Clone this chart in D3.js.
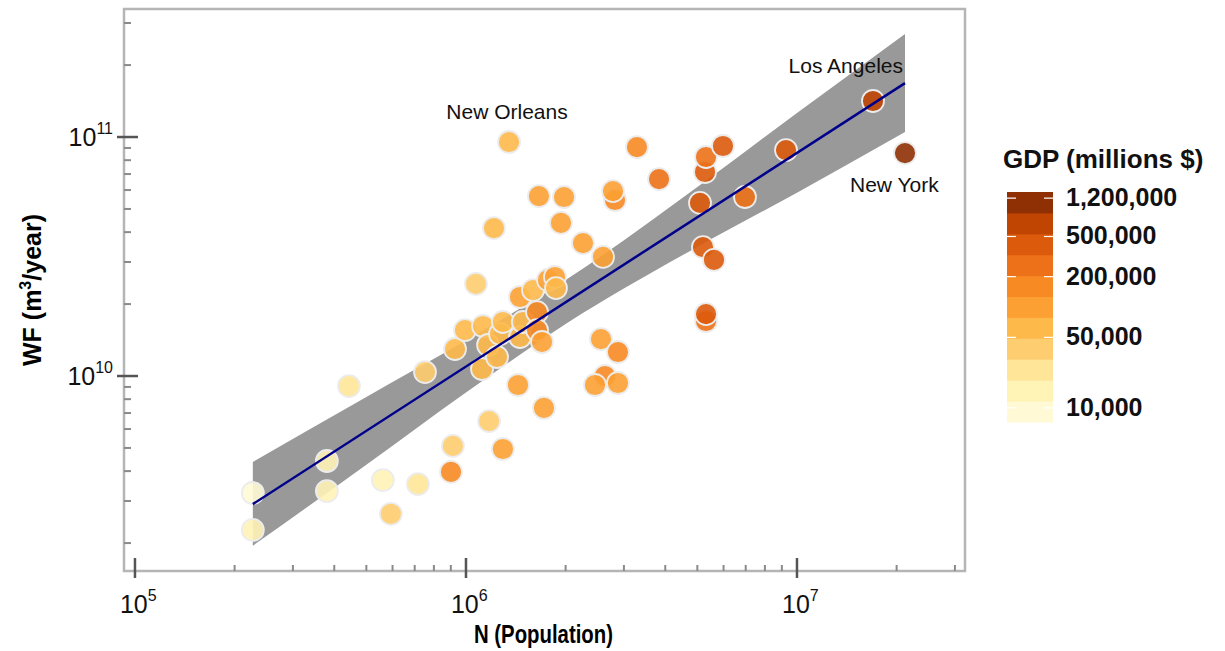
<!DOCTYPE html>
<html>
<head>
<meta charset="utf-8">
<script src="https://cdn.jsdelivr.net/npm/d3@7"></script>
<style>
body{margin:0;background:#fff}
text{font-family:"Liberation Sans",Arial,sans-serif}
</style>
</head>
<body>
<svg id="chart" width="1225" height="651"></svg>
<script>
// city data (first three are the labelled ones)
var popN = [1.349e6,1.697e7,2.120e7,
  2.27e5,2.27e5,3.80e5,3.80e5,4.43e5,5.61e5,7.16e5,5.93e5,7.52e5,9.01e5,9.13e5,1.174e6,1.293e6,1.436e6,1.720e6,
  1.072e6,1.215e6,1.661e6,1.978e6,1.936e6,2.257e6,2.594e6,2.820e6,2.781e6,3.285e6,3.830e6,
  5.274e6,5.311e6,5.976e6,5.093e6,6.965e6,9.265e6,5.200e6,5.614e6,5.311e6,5.311e6,
  2.558e6,2.878e6,2.630e6,2.453e6,2.878e6,
  9.265e5,9.93e5,1.126e6,1.166e6,1.267e6,1.293e6,1.118e6,1.241e6,1.456e6,1.486e6,
  1.639e6,1.639e6,1.697e6,1.456e6,1.594e6,1.769e6,1.857e6,1.870e6]
var waterWF = [9.53e10,1.415e11,8.57e10,
  3.24e9,2.27e9,4.41e9,3.30e9,9.08e9,3.67e9,3.53e9,2.65e9,1.039e10,3.97e9,5.10e9,6.48e9,4.95e9,9.17e9,7.35e9,
  2.43e10,4.16e10,5.66e10,5.61e10,4.37e10,3.60e10,3.15e10,5.45e10,5.94e10,9.08e10,6.67e10,
  7.14e10,8.25e10,9.17e10,5.30e10,5.61e10,8.82e10,3.46e10,3.06e10,1.699e10,1.817e10,
  1.428e10,1.260e10,1.0e10,9.17e9,9.35e9,
  1.297e10,1.557e10,1.619e10,1.348e10,1.499e10,1.683e10,1.070e10,1.201e10,1.456e10,1.683e10,
  1.852e10,1.557e10,1.388e10,2.141e10,2.289e10,2.522e10,2.596e10,2.334e10]
var gdp = [62000,690000,1210000,
  9000,15000,14000,16000,22000,17000,25000,33000,40000,150000,36000,35000,95000,90000,105000,
  42000,55000,98000,88000,110000,102000,115000,140000,120000,170000,240000,
  450000,290000,400000,380000,300000,470000,430000,410000,310000,480000,
  112000,165000,150000,100000,108000,
  60000,65000,58000,52000,63000,66000,50000,56000,64000,60000,
  135000,145000,92000,85000,70000,96000,104000,68000]
var labelNames = ["New Orleans","Los Angeles","New York"]

// fitted line and confidence band
var fitN = [2.27e5,2.12e7]
var fitWF = [2.91e9,1.68e11]
var bandN = [2.27e5,5e5,1e6,2e6,5e6,1e7,2.12e7]
var bandLo = [1.95e9,4.25e9,8.53e9,1.65e10,3.47e10,5.85e10,1.05e11]
var bandHi = [4.37e9,8.17e9,1.41e10,2.52e10,6.18e10,1.26e11,2.70e11]

// legend
var legendTicks = [10000,50000,200000,500000,1200000]
var colors = ["#fffad5","#fff3b6","#fee598","#fecd6f","#fdb94a","#fca033","#f78a23","#ec7118","#db5a0b","#c04503","#8f3004"]
var gdpLogMin = 3.86, gdpLogMax = 6.14

var svg = d3.select("#chart")
var x = d3.scaleLog().domain([92650,32180000]).range([124,965])
var y = d3.scaleLog().domain([1.528e9,3.433e11]).range([571,9])
var color = d3.scaleQuantize().domain([gdpLogMin,gdpLogMax]).range(colors)
var isMajor = v => Math.abs(Math.log10(v)-Math.round(Math.log10(v)))<1e-6

// band
var band = bandN.map((n,i)=>({n:n,lo:bandLo[i],hi:bandHi[i]}))
svg.append("path")
  .datum(band)
  .attr("d",d3.area().x(d=>x(d.n)).y0(d=>y(d.lo)).y1(d=>y(d.hi)).curve(d3.curveMonotoneX))
  .attr("fill","#999999")

// points
var pts = popN.map((n,i)=>({n:n,wf:waterWF[i],gdp:gdp[i]}))
var drawOrder = d3.range(3,pts.length).concat([0,1,2])
svg.selectAll("circle.city")
  .data(drawOrder.map(i=>pts[i]))
  .enter()
  .append("circle")
  .attr("class","city")
  .attr("cx",d=>x(d.n))
  .attr("cy",d=>y(d.wf))
  .attr("r",11)
  .attr("fill",d=>color(Math.log10(d.gdp)))
  .attr("fill-opacity",0.9)
  .attr("stroke","#ececec")
  .attr("stroke-width",1.8)

// fit line
svg.append("path")
  .datum(fitN.map((n,i)=>({n:n,wf:fitWF[i]})))
  .attr("d",d3.line().x(d=>x(d.n)).y(d=>y(d.wf)))
  .attr("fill","none")
  .attr("stroke","#00008b")
  .attr("stroke-width",2.5)

// city labels
var labelOff = [{dx:-2,dy:-23,a:"middle"},{dx:30,dy:-28,a:"end"},{dx:-55,dy:39,a:"start"}]
labelNames.forEach((name,i)=>{
  svg.append("text")
    .text(name)
    .attr("x",x(pts[i].n)+labelOff[i].dx)
    .attr("y",y(pts[i].wf)+labelOff[i].dy)
    .attr("text-anchor",labelOff[i].a)
    .attr("font-size",21)
    .attr("fill","#111")
})

// frame
svg.append("rect")
  .attr("x",124).attr("y",9).attr("width",841).attr("height",562)
  .attr("fill","none").attr("stroke","#b5b5b5").attr("stroke-width",2.5)

// x ticks
x.ticks().forEach(v=>{
  var m = isMajor(v)
  svg.append("line")
    .attr("x1",x(v)).attr("x2",x(v))
    .attr("y1",m?558:565).attr("y2",m?578:571)
    .attr("stroke",m?"#555":"#8a8a8a").attr("stroke-width",m?2.5:2)
  if(m){
    var t = svg.append("text").attr("x",x(v)-15).attr("y",613).attr("font-size",25).attr("fill","#111")
    t.append("tspan").text("10")
    t.append("tspan").text(Math.round(Math.log10(v))).attr("font-size",16).attr("dy",-12)
  }
})

// y ticks
y.ticks().forEach(v=>{
  var m = isMajor(v)
  svg.append("line")
    .attr("y1",y(v)).attr("y2",y(v))
    .attr("x1",m?117:124).attr("x2",m?138:131)
    .attr("stroke",m?"#555":"#8a8a8a").attr("stroke-width",m?2.5:2)
  if(m){
    var t = svg.append("text").attr("x",113).attr("y",y(v)+9).attr("text-anchor","end").attr("font-size",25).attr("fill","#111")
    t.append("tspan").text("10")
    t.append("tspan").text(Math.round(Math.log10(v))).attr("font-size",16).attr("dy",-12)
  }
})

// axis titles
svg.append("text")
  .text("N (Population)")
  .attr("x",474).attr("y",643)
  .attr("textLength",139).attr("lengthAdjust","spacingAndGlyphs")
  .attr("font-size",25).attr("font-weight","bold")

var yt = svg.append("text")
  .attr("transform","translate(41,290) rotate(-90)")
  .attr("text-anchor","middle")
  .attr("font-size",25).attr("font-weight","bold")
yt.append("tspan").text("WF (m")
yt.append("tspan").text("3").attr("font-size",16).attr("dy",-10)
yt.append("tspan").text("/year)").attr("dy",10)

// legend
var g = d3.scaleLog().domain([Math.pow(10,gdpLogMin),Math.pow(10,gdpLogMax)]).range([422,192])
var step = (gdpLogMax-gdpLogMin)/colors.length
svg.selectAll("rect.key")
  .data(colors)
  .enter()
  .append("rect")
  .attr("class","key")
  .attr("x",1007).attr("width",46)
  .attr("y",(d,i)=>g(Math.pow(10,gdpLogMin+(i+1)*step)))
  .attr("height",(d,i)=>g(Math.pow(10,gdpLogMin+i*step))-g(Math.pow(10,gdpLogMin+(i+1)*step))+0.5)
  .attr("fill",d=>d)

legendTicks.forEach(v=>{
  svg.append("line").attr("x1",1007).attr("x2",1016).attr("y1",g(v)).attr("y2",g(v)).attr("stroke","#fff").attr("stroke-width",1.2)
  svg.append("line").attr("x1",1044).attr("x2",1053).attr("y1",g(v)).attr("y2",g(v)).attr("stroke","#fff").attr("stroke-width",1.2)
  svg.append("text")
    .text(d3.format(",")(v))
    .attr("x",1066).attr("y",g(v)+8)
    .attr("font-size",25).attr("font-weight","bold").attr("fill","#111")
})

svg.append("text")
  .text("GDP (millions $)")
  .attr("x",1003).attr("y",168)
  .attr("font-size",26).attr("font-weight","bold").attr("fill","#111")
</script>
</body>
</html>
